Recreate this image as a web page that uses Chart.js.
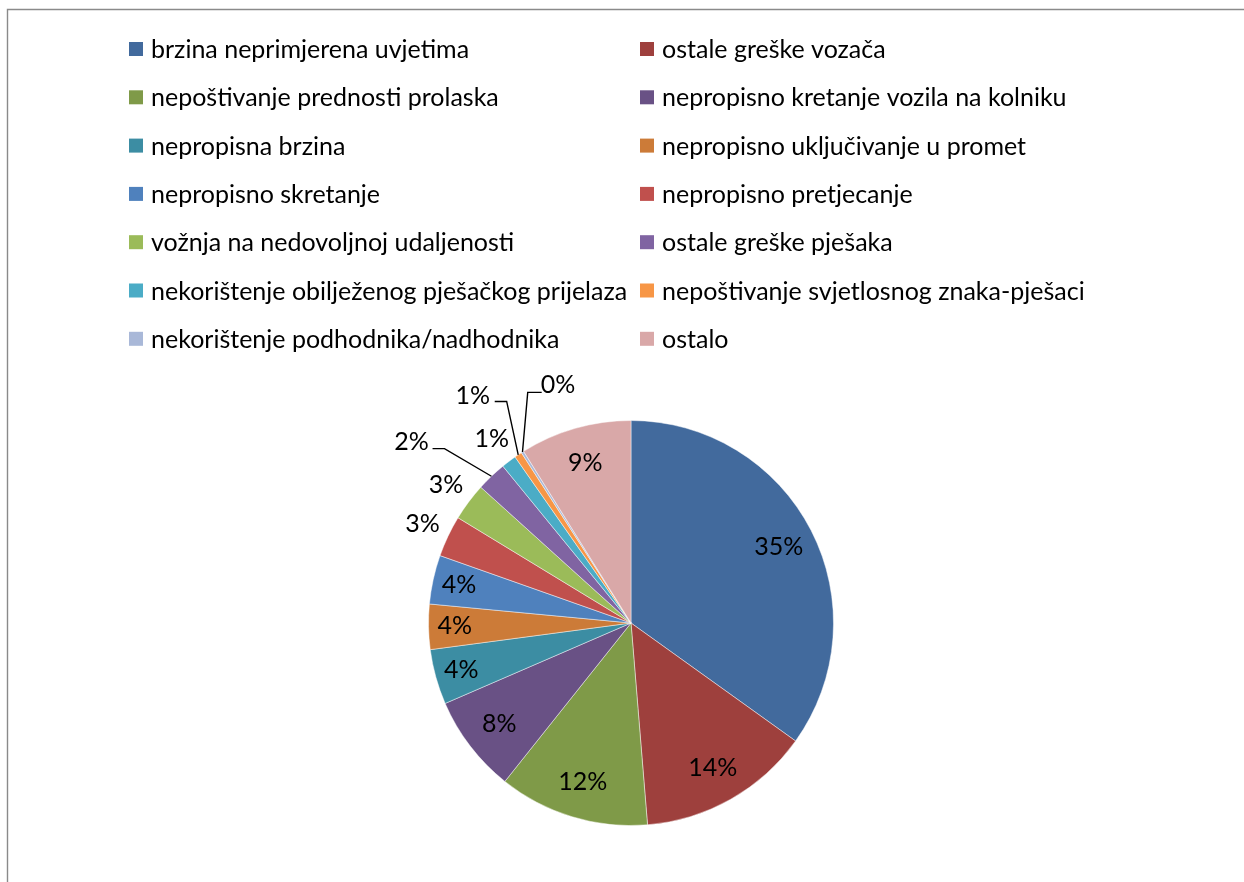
<!DOCTYPE html>
<html>
<head>
<meta charset="utf-8">
<script src="https://cdn.jsdelivr.net/npm/chart.js@4"></script>
<style>
  html, body { margin: 0; padding: 0; background: #ffffff; }
  #wrap { width: 1244px; height: 882px; }
</style>
</head>
<body>
<div id="wrap"><canvas id="c" width="1244" height="882"></canvas></div>
<script>
// ---- data ----
const categories = [
  "brzina neprimjerena uvjetima",
  "ostale greške vozača",
  "nepoštivanje prednosti prolaska",
  "nepropisno kretanje vozila na kolniku",
  "nepropisna brzina",
  "nepropisno uključivanje u promet",
  "nepropisno skretanje",
  "nepropisno pretjecanje",
  "vožnja na nedovoljnoj udaljenosti",
  "ostale greške pješaka",
  "nekorištenje obilježenog pješačkog prijelaza",
  "nepoštivanje svjetlosnog znaka-pješaci",
  "nekorištenje podhodnika/nadhodnika",
  "ostalo"
];
const shares = [34.9, 13.8, 12.0, 7.8, 4.4, 3.6, 3.9, 3.3, 3.0, 2.4, 1.2, 0.6, 0.2, 8.9];
const sliceColors = [
  "#426A9D", "#9E403D", "#7F9A48", "#695185", "#3C8DA3", "#CC7B38",
  "#4F81BD", "#C0504D", "#9BBB59", "#8064A2", "#4BACC6", "#F79646",
  "#A9B8D8", "#D9A8A8"
];

const FONT = "25px Lato, 'Open Sans', sans-serif";

// background + frame
const framePlugin = {
  id: 'frame',
  beforeDraw(chart) {
    const ctx = chart.ctx;
    ctx.save();
    ctx.fillStyle = '#ffffff';
    ctx.fillRect(0, 0, chart.width, chart.height);
    ctx.strokeStyle = '#8a8a8a';
    ctx.lineWidth = 1.4;
    ctx.beginPath();
    ctx.moveTo(7.5, chart.height + 2);
    ctx.lineTo(7.5, 9.5);
    ctx.lineTo(chart.width + 2, 9.5);
    ctx.stroke();
    ctx.restore();
  }
};

// two-column legend
const legendPlugin = {
  id: 'twoColLegend',
  afterDraw(chart, args, opts) {
    const ctx = chart.ctx;
    const ds = chart.data.datasets[0];
    ctx.save();
    ctx.font = FONT;
    ctx.textBaseline = 'middle';
    ctx.textAlign = 'left';
    chart.data.labels.forEach((lab, i) => {
      const col = i % 2, row = Math.floor(i / 2);
      const bx = opts.colX[col];
      const cy = opts.top + row * opts.rowGap;
      ctx.fillStyle = ds.backgroundColor[i];
      ctx.fillRect(bx, cy - 7, 14, 14);
      ctx.fillStyle = '#000000';
      ctx.fillText(lab, bx + 22, cy + 1);
    });
    ctx.restore();
  }
};

// percentage labels
const pctPlugin = {
  id: 'pctLabels',
  afterDatasetsDraw(chart, args, opts) {
    const ctx = chart.ctx;
    const ds = chart.data.datasets[0];
    const total = ds.data.reduce((a, b) => a + b, 0);
    const meta = chart.getDatasetMeta(0);
    ctx.save();
    ctx.font = FONT;
    ctx.textBaseline = 'middle';
    ctx.textAlign = 'center';
    ctx.fillStyle = '#000000';
    meta.data.forEach((arc, i) => {
      const p = arc.getProps(['x', 'y', 'startAngle', 'endAngle', 'outerRadius'], true);
      const mid = (p.startAngle + p.endAngle) / 2;
      const R = p.outerRadius;
      const share = ds.data[i] / total * 100;
      const txt = Math.round(share) + '%';
      const ld = opts.leaders[i];
      if (ld) {
        const ex = p.x + R * Math.cos(mid), ey = p.y + R * Math.sin(mid);
        ctx.strokeStyle = '#000000';
        ctx.lineWidth = 1.4;
        ctx.beginPath();
        ctx.moveTo(ex, ey);
        ctx.lineTo(p.x + ld.elbow[0] * R, p.y + ld.elbow[1] * R);
        ctx.lineTo(p.x + ld.end[0] * R, p.y + ld.end[1] * R);
        ctx.stroke();
        ctx.fillText(txt, p.x + ld.text[0] * R, p.y + ld.text[1] * R);
      } else {
        const f = share >= 5 ? 0.82 : (share >= 3.5 ? 0.87 : 1.14);
        ctx.fillText(txt, p.x + f * R * Math.cos(mid), p.y + f * R * Math.sin(mid));
      }
    });
    ctx.restore();
  }
};

new Chart(document.getElementById('c'), {
  type: 'pie',
  data: {
    labels: categories,
    datasets: [{
      data: shares,
      backgroundColor: sliceColors,
      borderColor: 'rgba(255,255,255,0.45)',
      borderWidth: 1
    }]
  },
  options: {
    responsive: false,
    devicePixelRatio: 1,
    animation: false,
    layout: { padding: { top: 420, bottom: 56, left: 18, right: 0 } },
    plugins: {
      legend: { display: false },
      tooltip: { enabled: false },
      twoColLegend: { colX: [129, 640], top: 49, rowGap: 48.3 },
      pctLabels: {
        leaders: {
          9:  { elbow: [-0.921, -0.861], end: [-0.980, -0.861], text: [-1.084, -0.896] },
          11: { elbow: [-0.614, -1.094], end: [-0.673, -1.094], text: [-0.782, -1.119] },
          12: { elbow: [-0.510, -1.139], end: [-0.441, -1.139], text: [-0.361, -1.178] }
        }
      }
    }
  },
  plugins: [framePlugin, pctPlugin, legendPlugin]
});
</script>
</body>
</html>
